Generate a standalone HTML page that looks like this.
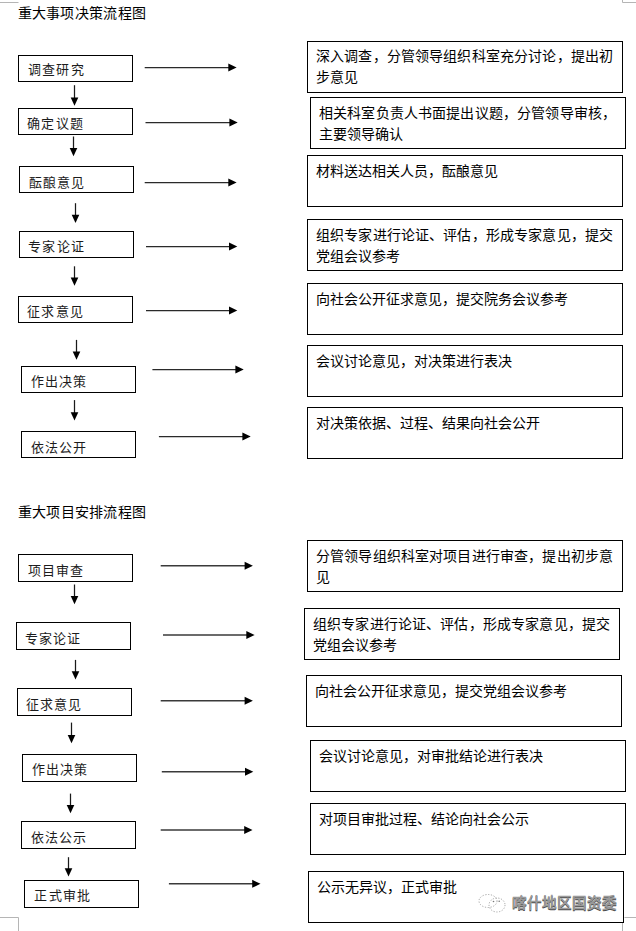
<!DOCTYPE html>
<html lang="zh-CN"><head><meta charset="utf-8"><title>重大事项决策流程图</title>
<style>
html,body{margin:0;padding:0;background:#fff;}
body{width:636px;height:931px;position:relative;overflow:hidden;font-family:"Liberation Sans",sans-serif;color:#000;}
.t{position:absolute;font-size:14px;line-height:20px;letter-spacing:0.3px;white-space:nowrap;}
.rt{position:absolute;font-size:14px;line-height:21px;white-space:nowrap;}
.j{letter-spacing:0.15px;}
.lt{position:absolute;font-size:13px;line-height:20px;letter-spacing:1.2px;white-space:nowrap;color:#1c1c1c;}
.b{position:absolute;box-sizing:border-box;border:1px solid #000;}
svg{position:absolute;left:0;top:0;}
</style></head><body>

<div class="t" style="left:17.5px;top:3.2px">重大事项决策流程图</div>
<div class="t" style="left:17.7px;top:502.0px">重大项目安排流程图</div>
<div class="b" style="left:18px;top:55px;width:115px;height:27px"></div>
<div class="lt" style="left:28.0px;top:60.3px">调查研究</div>
<div class="b" style="left:18px;top:108px;width:115px;height:27px"></div>
<div class="lt" style="left:27.2px;top:114.4px">确定议题</div>
<div class="b" style="left:19px;top:166px;width:115px;height:27px"></div>
<div class="lt" style="left:28.9px;top:173.4px">酝酿意见</div>
<div class="b" style="left:19px;top:231px;width:115px;height:27px"></div>
<div class="lt" style="left:28.2px;top:237.4px">专家论证</div>
<div class="b" style="left:18px;top:296px;width:115px;height:27px"></div>
<div class="lt" style="left:27.2px;top:302.0px">征求意见</div>
<div class="b" style="left:21px;top:366px;width:115px;height:27px"></div>
<div class="lt" style="left:30.5px;top:371.9px">作出决策</div>
<div class="b" style="left:21px;top:431px;width:115px;height:27px"></div>
<div class="lt" style="left:30.5px;top:437.5px">依法公开</div>
<div class="b" style="left:18px;top:554px;width:115px;height:28px"></div>
<div class="lt" style="left:27.6px;top:561.4px">项目审查</div>
<div class="b" style="left:16px;top:622px;width:115px;height:28px"></div>
<div class="lt" style="left:24.9px;top:629.0px">专家论证</div>
<div class="b" style="left:17px;top:688px;width:115px;height:28px"></div>
<div class="lt" style="left:25.8px;top:695.0px">征求意见</div>
<div class="b" style="left:22px;top:754px;width:115px;height:28px"></div>
<div class="lt" style="left:31.7px;top:760.0px">作出决策</div>
<div class="b" style="left:21px;top:821px;width:115px;height:28px"></div>
<div class="lt" style="left:30.8px;top:827.7px">依法公示</div>
<div class="b" style="left:24px;top:880px;width:115px;height:28px"></div>
<div class="lt" style="left:34.4px;top:885.5px">正式审批</div>
<div class="b" style="left:307px;top:41px;width:316px;height:52px"></div>
<div class="rt" style="left:316.0px;top:46.0px"><span class="j">深入调查，分管领导组织科室充分讨论，提出初</span><br>步意见</div>
<div class="b" style="left:310px;top:97px;width:316px;height:52px"></div>
<div class="rt" style="left:319.0px;top:103.0px"><span class="j">相关科室负责人书面提出议题，分管领导审核，</span><br>主要领导确认</div>
<div class="b" style="left:307px;top:155px;width:316px;height:52px"></div>
<div class="rt" style="left:316.0px;top:161.0px">材料送达相关人员，酝酿意见</div>
<div class="b" style="left:307px;top:219px;width:316px;height:52px"></div>
<div class="rt" style="left:316.0px;top:225.0px"><span class="j">组织专家进行论证、评估，形成专家意见，提交</span><br>党组会议参考</div>
<div class="b" style="left:307px;top:283px;width:316px;height:52px"></div>
<div class="rt" style="left:316.0px;top:289.0px">向社会公开征求意见，提交院务会议参考</div>
<div class="b" style="left:307px;top:345px;width:316px;height:52px"></div>
<div class="rt" style="left:316.0px;top:351.0px">会议讨论意见，对决策进行表决</div>
<div class="b" style="left:307px;top:407px;width:316px;height:52px"></div>
<div class="rt" style="left:316.0px;top:413.0px">对决策依据、过程、结果向社会公开</div>
<div class="b" style="left:307px;top:540px;width:316px;height:52px"></div>
<div class="rt" style="left:316.0px;top:546.0px"><span class="j">分管领导组织科室对项目进行审查，提出初步意</span><br>见</div>
<div class="b" style="left:304px;top:608px;width:316px;height:52px"></div>
<div class="rt" style="left:313.0px;top:614.0px"><span class="j">组织专家进行论证、评估，形成专家意见，提交</span><br>党组会议参考</div>
<div class="b" style="left:306px;top:675px;width:316px;height:52px"></div>
<div class="rt" style="left:315.0px;top:681.0px">向社会公开征求意见，提交党组会议参考</div>
<div class="b" style="left:310px;top:740px;width:316px;height:52px"></div>
<div class="rt" style="left:319.0px;top:746.0px">会议讨论意见，对审批结论进行表决</div>
<div class="b" style="left:310px;top:803px;width:316px;height:52px"></div>
<div class="rt" style="left:319.0px;top:809.0px">对项目审批过程、结论向社会公示</div>
<div class="b" style="left:308px;top:871px;width:316px;height:52px"></div>
<div class="rt" style="left:317.0px;top:877.0px">公示无异议，正式审批</div>
<svg width="636" height="931" viewBox="0 0 636 931">
<line x1="74.5" y1="85.2" x2="74.5" y2="99.8" stroke="#1a1a1a" stroke-width="1.25"/>
<path d="M70.7 97.5L78.3 97.5L74.5 105.8Z" fill="#000"/>
<line x1="73.5" y1="136.5" x2="73.5" y2="150.3" stroke="#1a1a1a" stroke-width="1.25"/>
<path d="M69.7 148.0L77.3 148.0L73.5 156.3Z" fill="#000"/>
<line x1="75.5" y1="203.2" x2="75.5" y2="217.0" stroke="#1a1a1a" stroke-width="1.25"/>
<path d="M71.7 214.7L79.3 214.7L75.5 223.0Z" fill="#000"/>
<line x1="74.5" y1="266.3" x2="74.5" y2="279.7" stroke="#1a1a1a" stroke-width="1.25"/>
<path d="M70.7 277.4L78.3 277.4L74.5 285.7Z" fill="#000"/>
<line x1="76.5" y1="339.9" x2="76.5" y2="353.8" stroke="#1a1a1a" stroke-width="1.25"/>
<path d="M72.7 351.5L80.3 351.5L76.5 359.8Z" fill="#000"/>
<line x1="74.5" y1="400.1" x2="74.5" y2="414.5" stroke="#1a1a1a" stroke-width="1.25"/>
<path d="M70.7 412.2L78.3 412.2L74.5 420.5Z" fill="#000"/>
<line x1="74.5" y1="584.5" x2="74.5" y2="598.3" stroke="#1a1a1a" stroke-width="1.25"/>
<path d="M70.7 596.0L78.3 596.0L74.5 604.3Z" fill="#000"/>
<line x1="75.5" y1="659.9" x2="75.5" y2="673.5" stroke="#1a1a1a" stroke-width="1.25"/>
<path d="M71.7 671.2L79.3 671.2L75.5 679.5Z" fill="#000"/>
<line x1="71.5" y1="722.6" x2="71.5" y2="737.2" stroke="#1a1a1a" stroke-width="1.25"/>
<path d="M67.7 734.9L75.3 734.9L71.5 743.2Z" fill="#000"/>
<line x1="70.5" y1="793.6" x2="70.5" y2="807.3" stroke="#1a1a1a" stroke-width="1.25"/>
<path d="M66.7 805.0L74.3 805.0L70.5 813.3Z" fill="#000"/>
<line x1="68.5" y1="857.2" x2="68.5" y2="870.5" stroke="#1a1a1a" stroke-width="1.25"/>
<path d="M64.7 868.2L72.3 868.2L68.5 876.5Z" fill="#000"/>
<line x1="144.7" y1="67.5" x2="230.3" y2="67.5" stroke="#2a2a2a" stroke-width="1.25"/>
<path d="M228.3 63.5L228.3 71.5L236.6 67.5Z" fill="#000"/>
<line x1="145.5" y1="122.5" x2="231.4" y2="122.5" stroke="#2a2a2a" stroke-width="1.25"/>
<path d="M229.4 118.5L229.4 126.5L237.7 122.5Z" fill="#000"/>
<line x1="144.7" y1="182.5" x2="230.3" y2="182.5" stroke="#2a2a2a" stroke-width="1.25"/>
<path d="M228.3 178.5L228.3 186.5L236.6 182.5Z" fill="#000"/>
<line x1="146.0" y1="246.5" x2="231.0" y2="246.5" stroke="#2a2a2a" stroke-width="1.25"/>
<path d="M229.0 242.5L229.0 250.5L237.3 246.5Z" fill="#000"/>
<line x1="146.0" y1="310.5" x2="231.0" y2="310.5" stroke="#2a2a2a" stroke-width="1.25"/>
<path d="M229.0 306.5L229.0 314.5L237.3 310.5Z" fill="#000"/>
<line x1="152.4" y1="369.5" x2="237.4" y2="369.5" stroke="#2a2a2a" stroke-width="1.25"/>
<path d="M235.4 365.5L235.4 373.5L243.7 369.5Z" fill="#000"/>
<line x1="158.9" y1="436.5" x2="244.4" y2="436.5" stroke="#2a2a2a" stroke-width="1.25"/>
<path d="M242.4 432.5L242.4 440.5L250.7 436.5Z" fill="#000"/>
<line x1="160.7" y1="565.8" x2="246.6" y2="565.8" stroke="#3a3a3a" stroke-width="1.5"/>
<path d="M244.6 561.8L244.6 569.8L252.9 565.8Z" fill="#000"/>
<line x1="163.0" y1="634.9" x2="248.3" y2="634.9" stroke="#3a3a3a" stroke-width="1.5"/>
<path d="M246.3 630.9L246.3 638.9L254.6 634.9Z" fill="#000"/>
<line x1="160.7" y1="700.8" x2="246.6" y2="700.8" stroke="#3a3a3a" stroke-width="1.5"/>
<path d="M244.6 696.8L244.6 704.8L252.9 700.8Z" fill="#000"/>
<line x1="161.8" y1="771.7" x2="247.0" y2="771.7" stroke="#3a3a3a" stroke-width="1.5"/>
<path d="M245.0 767.7L245.0 775.7L253.3 771.7Z" fill="#000"/>
<line x1="160.7" y1="830.0" x2="246.2" y2="830.0" stroke="#3a3a3a" stroke-width="1.5"/>
<path d="M244.2 826.0L244.2 834.0L252.5 830.0Z" fill="#000"/>
<line x1="168.9" y1="883.8" x2="254.2" y2="883.8" stroke="#3a3a3a" stroke-width="1.5"/>
<path d="M252.2 879.8L252.2 887.8L260.5 883.8Z" fill="#000"/>
<path d="M0 2.5H18.5M622.5 0V2.5H636M0 917.5H18.5V931M624.5 917.5H636M622.5 923V931" fill="none" stroke="#b5b5b5" stroke-width="1"/>
</svg>
<div style="position:absolute;left:511.5px;top:894.3px;font-size:14.6px;line-height:18px;font-weight:bold;color:#9a9a9a;white-space:nowrap;text-shadow:0.8px 0.8px 0 #4a4a4a,-0.6px -0.6px 0 #fff">喀什地区国资委</div>
<svg width="40" height="26" viewBox="0 0 40 26" style="left:474px;top:890px"><g fill="none" stroke="#999" stroke-width="0.9" stroke-dasharray="1.2 1.6"><ellipse cx="14" cy="11" rx="9" ry="6.5"/><ellipse cx="23" cy="15" rx="8" ry="7"/></g><circle cx="19.5" cy="11.5" r="0.8" fill="#777"/><circle cx="25.2" cy="11.2" r="0.8" fill="#777"/></svg>
</body></html>
